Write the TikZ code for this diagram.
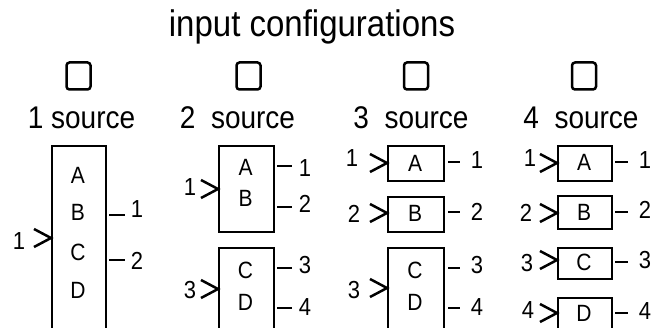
\documentclass[tikz,border=0pt]{standalone}
\usepackage{fontspec}
\setmainfont{Liberation Sans}
\newcommand\tallt[1]{\scalebox{1}[1.12]{#1}}
\begin{document}
\begin{tikzpicture}[x=1pt,y=-1pt,
  box/.style={draw,line width=2pt,inner sep=0pt,anchor=north west},
  sq/.style={draw,line width=2.5pt,rounded corners=3pt,minimum width=24pt,minimum height=27pt,inner sep=0pt},
  letter/.style={inner sep=0pt,font=\fontsize{21}{21}\selectfont},
  num/.style={inner sep=0pt,font=\fontsize{22}{22}\selectfont},
  sub/.style={inner sep=0pt,anchor=base,font=\fontsize{28}{28}\selectfont},
  chev/.pic={\draw[line width=2.5pt,miter limit=10] (-17,-9) -- (0,0) -- (-17,9);},
  tick/.style={line width=2.5pt}]
\useasboundingbox (0,0) rectangle (652,328);
\clip (0,0) rectangle (652,328);
% title
\node[inner sep=0pt,anchor=base,font=\fontsize{33}{33}\selectfont] (title) at (312,37) {\tallt{input configurations}};
% squares and subtitles
\node[sq] (s1) at (78.5,76) {};
\node[sq] (s2) at (248.5,76) {};
\node[sq] (s3) at (416,76) {};
\node[sq] (s4) at (584,76) {};
\node[sub] (t1) at (81.5,129) {\tallt{1 source}};
\node[sub] (t2) at (237.5,129) {\tallt{2\ \ source}};
\node[sub] (t3) at (411,129) {\tallt{3\ \ source}};
\node[sub] (t4) at (581,129) {\tallt{4\ \ source}};
% column 1
\node[box,minimum width=54pt,minimum height=200pt] (b1) at (51,145) {};
\node[letter] (l1a) at (78,175) {\tallt{A}};
\node[letter] (l1b) at (78,212) {\tallt{B}};
\node[letter] (l1c) at (78,252) {\tallt{C}};
\node[letter] (l1d) at (78,290) {\tallt{D}};
\pic at (b1.west |- 0,238) {chev};
\node[num] (i11) at (19,241) {\tallt{1}};
\draw[tick] ([xshift=2pt]b1.east |- 0,215) -- ++(16,0);
\draw[tick] ([xshift=2pt]b1.east |- 0,260) -- ++(16,0);
\node[num] (o11) at (137,209) {\tallt{1}};
\node[num] (o12) at (137,261) {\tallt{2}};
% column 2
\node[box,minimum width=55pt,minimum height=86pt] (b2a) at (218,145) {};
\node[box,minimum width=55pt,minimum height=100pt] (b2b) at (218,247) {};
\node[letter] (l2a) at (245.5,167) {\tallt{A}};
\node[letter] (l2b) at (245.5,198) {\tallt{B}};
\node[letter] (l2c) at (245.5,270) {\tallt{C}};
\node[letter] (l2d) at (245.5,302) {\tallt{D}};
\pic at (b2a.west |- 0,189) {chev};
\pic at (b2b.west |- 0,289) {chev};
\node[num] (i21) at (190,187) {\tallt{1}};
\node[num] (i23) at (190,290) {\tallt{3}};
\draw[tick] ([xshift=2pt]b2a.east |- 0,166) -- ++(15,0);
\draw[tick] ([xshift=2pt]b2a.east |- 0,207) -- ++(15,0);
\draw[tick] ([xshift=2pt]b2b.east |- 0,268) -- ++(15,0);
\draw[tick] ([xshift=2pt]b2b.east |- 0,308) -- ++(15,0);
\node[num] (o21) at (305,168) {\tallt{1}};
\node[num] (o22) at (305,204) {\tallt{2}};
\node[num] (o23) at (305,265) {\tallt{3}};
\node[num] (o24) at (305,307) {\tallt{4}};
% column 3
\node[box,minimum width=56pt,minimum height=35pt] (b3a) at (387,145) {};
\node[box,minimum width=56pt,minimum height=35pt] (b3b) at (387,196) {};
\node[box,minimum width=56pt,minimum height=100pt] (b3c) at (387,247) {};
\node[letter] (l3a) at (415,163) {\tallt{A}};
\node[letter] (l3b) at (415,213) {\tallt{B}};
\node[letter] (l3c) at (415,270) {\tallt{C}};
\node[letter] (l3d) at (415,302) {\tallt{D}};
\pic at (b3a.west |- 0,163) {chev};
\pic at (b3b.west |- 0,213) {chev};
\pic at (b3c.west |- 0,288) {chev};
\node[num] (i31) at (352,158) {\tallt{1}};
\node[num] (i32) at (354,214) {\tallt{2}};
\node[num] (i33) at (354,290) {\tallt{3}};
\draw[tick] ([xshift=3pt]b3a.east |- 0,162) -- ++(12,0);
\draw[tick] ([xshift=3pt]b3b.east |- 0,212) -- ++(12,0);
\draw[tick] ([xshift=3pt]b3c.east |- 0,268) -- ++(12,0);
\draw[tick] ([xshift=3pt]b3c.east |- 0,308) -- ++(12,0);
\node[num] (o31) at (477,160) {\tallt{1}};
\node[num] (o32) at (477,212) {\tallt{2}};
\node[num] (o33) at (477,265) {\tallt{3}};
\node[num] (o34) at (477,307) {\tallt{4}};
% column 4
\node[box,minimum width=54pt,minimum height=35pt] (b4a) at (557,145) {};
\node[box,minimum width=54pt,minimum height=33pt] (b4b) at (557,195) {};
\node[box,minimum width=54pt,minimum height=31pt] (b4c) at (557,247) {};
\node[box,minimum width=54pt,minimum height=60pt] (b4d) at (557,297) {};
\node[letter] (l4a) at (584,162) {\tallt{A}};
\node[letter] (l4b) at (584,212) {\tallt{B}};
\node[letter] (l4c) at (584,262) {\tallt{C}};
\node[letter] (l4d) at (584,313) {\tallt{D}};
\pic at (b4a.west |- 0,163) {chev};
\pic at (b4b.west |- 0,213) {chev};
\pic at (b4c.west |- 0,260) {chev};
\pic at (b4d.west |- 0,313) {chev};
\node[num] (i41) at (530,158) {\tallt{1}};
\node[num] (i42) at (526,213) {\tallt{2}};
\node[num] (i43) at (527,263) {\tallt{3}};
\node[num] (i44) at (528,310) {\tallt{4}};
\draw[tick] ([xshift=2pt]b4a.east |- 0,162) -- ++(13,0);
\draw[tick] ([xshift=2pt]b4b.east |- 0,212) -- ++(13,0);
\draw[tick] ([xshift=2pt]b4c.east |- 0,262) -- ++(13,0);
\draw[tick] ([xshift=2pt]b4d.east |- 0,313) -- ++(13,0);
\node[num] (o41) at (645,160) {\tallt{1}};
\node[num] (o42) at (645,210) {\tallt{2}};
\node[num] (o43) at (645,260) {\tallt{3}};
\node[num] (o44) at (645,311) {\tallt{4}};
\end{tikzpicture}
\end{document}
